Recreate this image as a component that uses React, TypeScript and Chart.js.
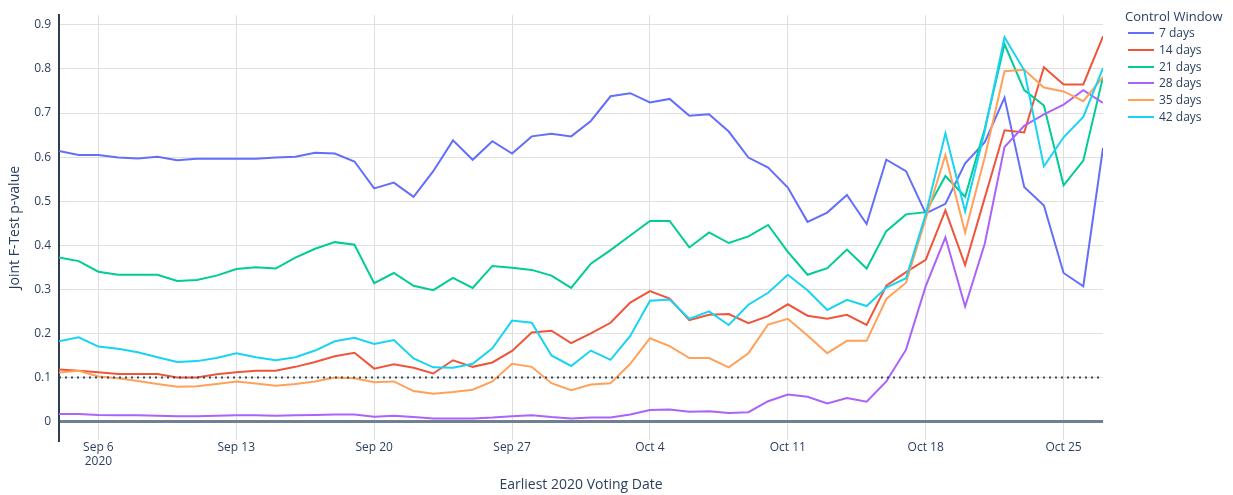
import React, { useEffect, useRef } from "react";
import { Chart, registerables } from "chart.js";

Chart.register(...registerables);

// Day index 0 = Sep 4, 2020 ... 53 = Oct 27, 2020
const DAYS: number[] = Array.from({ length: 54 }, (_, i) => i);

const TICK_DAYS = [2, 9, 16, 23, 30, 37, 44, 51];
const TICK_LABELS: (string | string[])[] = [
  ["Sep 6", "2020"],
  "Sep 13",
  "Sep 20",
  "Sep 27",
  "Oct 4",
  "Oct 11",
  "Oct 18",
  "Oct 25",
];
const Y_TICKS = [0, 0.1, 0.2, 0.3, 0.4, 0.5, 0.6, 0.7, 0.8, 0.9];
const THRESHOLD = 0.1;

const SERIES_NAMES = ["7 days", "14 days", "21 days", "28 days", "35 days", "42 days"];
const SERIES_COLORS = ["#636efa", "#EF553B", "#00cc96", "#ab63fa", "#FFA15A", "#19d3f3"];

const days7 = [0.614, 0.605, 0.605, 0.599, 0.597, 0.601, 0.593, 0.596, 0.596, 0.596, 0.596, 0.599, 0.601, 0.610, 0.608, 0.590, 0.529, 0.542, 0.510, 0.568, 0.638, 0.594, 0.636, 0.608, 0.647, 0.653, 0.647, 0.682, 0.738, 0.745, 0.724, 0.732, 0.694, 0.697, 0.658, 0.599, 0.576, 0.531, 0.453, 0.474, 0.514, 0.448, 0.594, 0.568, 0.472, 0.494, 0.586, 0.634, 0.735, 0.532, 0.490, 0.337, 0.307, 0.621];
const days14 = [0.118, 0.115, 0.112, 0.108, 0.108, 0.108, 0.100, 0.100, 0.107, 0.112, 0.115, 0.115, 0.124, 0.135, 0.148, 0.156, 0.120, 0.130, 0.122, 0.109, 0.139, 0.124, 0.134, 0.160, 0.202, 0.206, 0.178, 0.200, 0.224, 0.270, 0.296, 0.279, 0.230, 0.242, 0.244, 0.223, 0.239, 0.266, 0.240, 0.233, 0.242, 0.219, 0.308, 0.339, 0.367, 0.479, 0.355, 0.508, 0.661, 0.656, 0.804, 0.765, 0.765, 0.874];
const days21 = [0.372, 0.364, 0.340, 0.333, 0.333, 0.333, 0.319, 0.321, 0.331, 0.346, 0.350, 0.347, 0.372, 0.392, 0.407, 0.401, 0.314, 0.337, 0.308, 0.298, 0.326, 0.303, 0.353, 0.349, 0.344, 0.331, 0.303, 0.358, 0.389, 0.422, 0.455, 0.455, 0.395, 0.429, 0.405, 0.420, 0.446, 0.385, 0.333, 0.348, 0.390, 0.347, 0.432, 0.470, 0.475, 0.557, 0.510, 0.665, 0.856, 0.752, 0.717, 0.536, 0.592, 0.782];
const days28 = [0.017, 0.017, 0.015, 0.014, 0.014, 0.013, 0.012, 0.012, 0.013, 0.014, 0.014, 0.013, 0.014, 0.015, 0.016, 0.016, 0.011, 0.013, 0.010, 0.007, 0.007, 0.007, 0.009, 0.012, 0.014, 0.010, 0.007, 0.009, 0.009, 0.016, 0.026, 0.027, 0.022, 0.023, 0.019, 0.021, 0.046, 0.061, 0.056, 0.041, 0.053, 0.045, 0.091, 0.163, 0.307, 0.418, 0.261, 0.404, 0.623, 0.671, 0.697, 0.719, 0.752, 0.723];
const days35 = [0.111, 0.115, 0.102, 0.098, 0.092, 0.085, 0.079, 0.080, 0.085, 0.091, 0.086, 0.081, 0.085, 0.091, 0.100, 0.098, 0.089, 0.091, 0.069, 0.063, 0.067, 0.072, 0.091, 0.131, 0.124, 0.087, 0.071, 0.084, 0.087, 0.131, 0.189, 0.171, 0.144, 0.144, 0.123, 0.155, 0.220, 0.233, 0.195, 0.155, 0.183, 0.183, 0.278, 0.315, 0.460, 0.605, 0.429, 0.600, 0.795, 0.798, 0.758, 0.749, 0.727, 0.782];
const days42 = [0.182, 0.191, 0.170, 0.165, 0.157, 0.146, 0.135, 0.137, 0.144, 0.155, 0.146, 0.139, 0.146, 0.161, 0.182, 0.190, 0.176, 0.185, 0.143, 0.123, 0.122, 0.131, 0.166, 0.229, 0.224, 0.150, 0.126, 0.161, 0.140, 0.194, 0.274, 0.277, 0.233, 0.250, 0.219, 0.265, 0.292, 0.333, 0.298, 0.253, 0.276, 0.262, 0.304, 0.325, 0.470, 0.654, 0.477, 0.660, 0.872, 0.797, 0.579, 0.645, 0.691, 0.802];

const SERIES = [days7, days14, days21, days28, days35, days42];

const FONT = '"Open Sans", "Noto Sans", sans-serif';
const TEXT_COLOR = "#2a3f5f";

export default function App() {
  const canvasRef = useRef<HTMLCanvasElement | null>(null);

  useEffect(() => {
    const canvas = canvasRef.current;
    if (!canvas) return;

    const datasets: any[] = SERIES.map((vals, i) => ({
      label: SERIES_NAMES[i],
      data: vals.map((v, j) => ({ x: DAYS[j], y: v })),
      borderColor: SERIES_COLORS[i],
      backgroundColor: SERIES_COLORS[i],
      borderWidth: 2,
      pointRadius: 0,
      tension: 0,
      fill: false,
      order: 10 - i,
    }));
    datasets.push({
      label: "threshold",
      data: [
        { x: DAYS[0], y: THRESHOLD },
        { x: DAYS[DAYS.length - 1], y: THRESHOLD },
      ],
      borderColor: "#3a4656",
      borderWidth: 2,
      borderDash: [2, 4],
      pointRadius: 0,
      fill: false,
      order: 0,
    });

    const chart = new Chart(canvas, {
      type: "line",
      data: { datasets },
      options: {
        animation: false,
        responsive: false,
        maintainAspectRatio: false,
        layout: { padding: { left: 0, top: 5, right: 130, bottom: 0 } },
        plugins: {
          legend: { display: false },
          tooltip: { enabled: false },
        },
        scales: {
          x: {
            type: "linear",
            min: DAYS[0],
            max: DAYS[DAYS.length - 1],
            afterBuildTicks: (scale: any) => {
              scale.ticks = TICK_DAYS.map((v) => ({ value: v }));
            },
            afterFit: (scale: any) => {
              scale.height = 55;
            },
            ticks: {
              autoSkip: false,
              maxRotation: 0,
              padding: 1,
              color: TEXT_COLOR,
              font: { family: FONT, size: 12, lineHeight: 1.17 },
              callback: (_v: any, idx: number) => TICK_LABELS[idx],
            },
            grid: {
              color: "#dedede",
              lineWidth: 1,
              drawTicks: false,
            },
            border: { display: false },
            title: {
              display: true,
              text: "Earliest 2020 Voting Date",
              color: TEXT_COLOR,
              font: { family: FONT, size: 14 },
              padding: { top: 0, bottom: 2 },
            },
          },
          y: {
            type: "linear",
            min: -0.042,
            max: 0.922,
            afterBuildTicks: (scale: any) => {
              scale.ticks = Y_TICKS.map((v) => ({ value: v }));
            },
            afterFit: (scale: any) => {
              scale.width = 59;
            },
            ticks: {
              padding: 8,
              color: TEXT_COLOR,
              font: { family: FONT, size: 12 },
              callback: (v: any) => (Number(v) === 0 ? "0" : Number(v).toFixed(1)),
            },
            grid: {
              color: (ctx: any) => (ctx.tick && ctx.tick.value === 0 ? "#708090" : "#e0e0e0"),
              lineWidth: (ctx: any) => (ctx.tick && ctx.tick.value === 0 ? 3 : 1),
              drawTicks: false,
            },
            border: { display: true, color: "#2f3d52", width: 2 },
            title: {
              display: true,
              text: "Joint F-Test p-value",
              color: TEXT_COLOR,
              font: { family: FONT, size: 14 },
              padding: { top: 7, bottom: 0 },
            },
          },
        },
      },
    });

    return () => {
      chart.destroy();
    };
  }, []);

  const legendTop = 33.3;
  const legendStep = 16.67;

  return (
    <div
      style={{
        position: "fixed",
        top: 0,
        left: 0,
        width: 1233,
        height: 495,
        background: "#fff",
        fontFamily: FONT,
        color: TEXT_COLOR,
      }}
    >
      <canvas ref={canvasRef} width={1233} height={495} style={{ display: "block" }} />
      <div
        style={{
          position: "absolute",
          left: 1125,
          top: 7.7,
          fontSize: 13,
          lineHeight: "16px",
          whiteSpace: "nowrap",
        }}
      >
        Control Window
      </div>
      {SERIES_NAMES.map((name, i) => (
        <div
          key={name}
          style={{
            position: "absolute",
            left: 1128,
            top: legendTop + i * legendStep - 8,
            height: 16,
            display: "flex",
            alignItems: "center",
            whiteSpace: "nowrap",
          }}
        >
          <span
            style={{
              display: "inline-block",
              width: 26,
              height: 2,
              background: SERIES_COLORS[i],
              marginRight: 5,
            }}
          />
          <span style={{ fontSize: 12, lineHeight: "16px" }}>{name}</span>
        </div>
      ))}
    </div>
  );
}
